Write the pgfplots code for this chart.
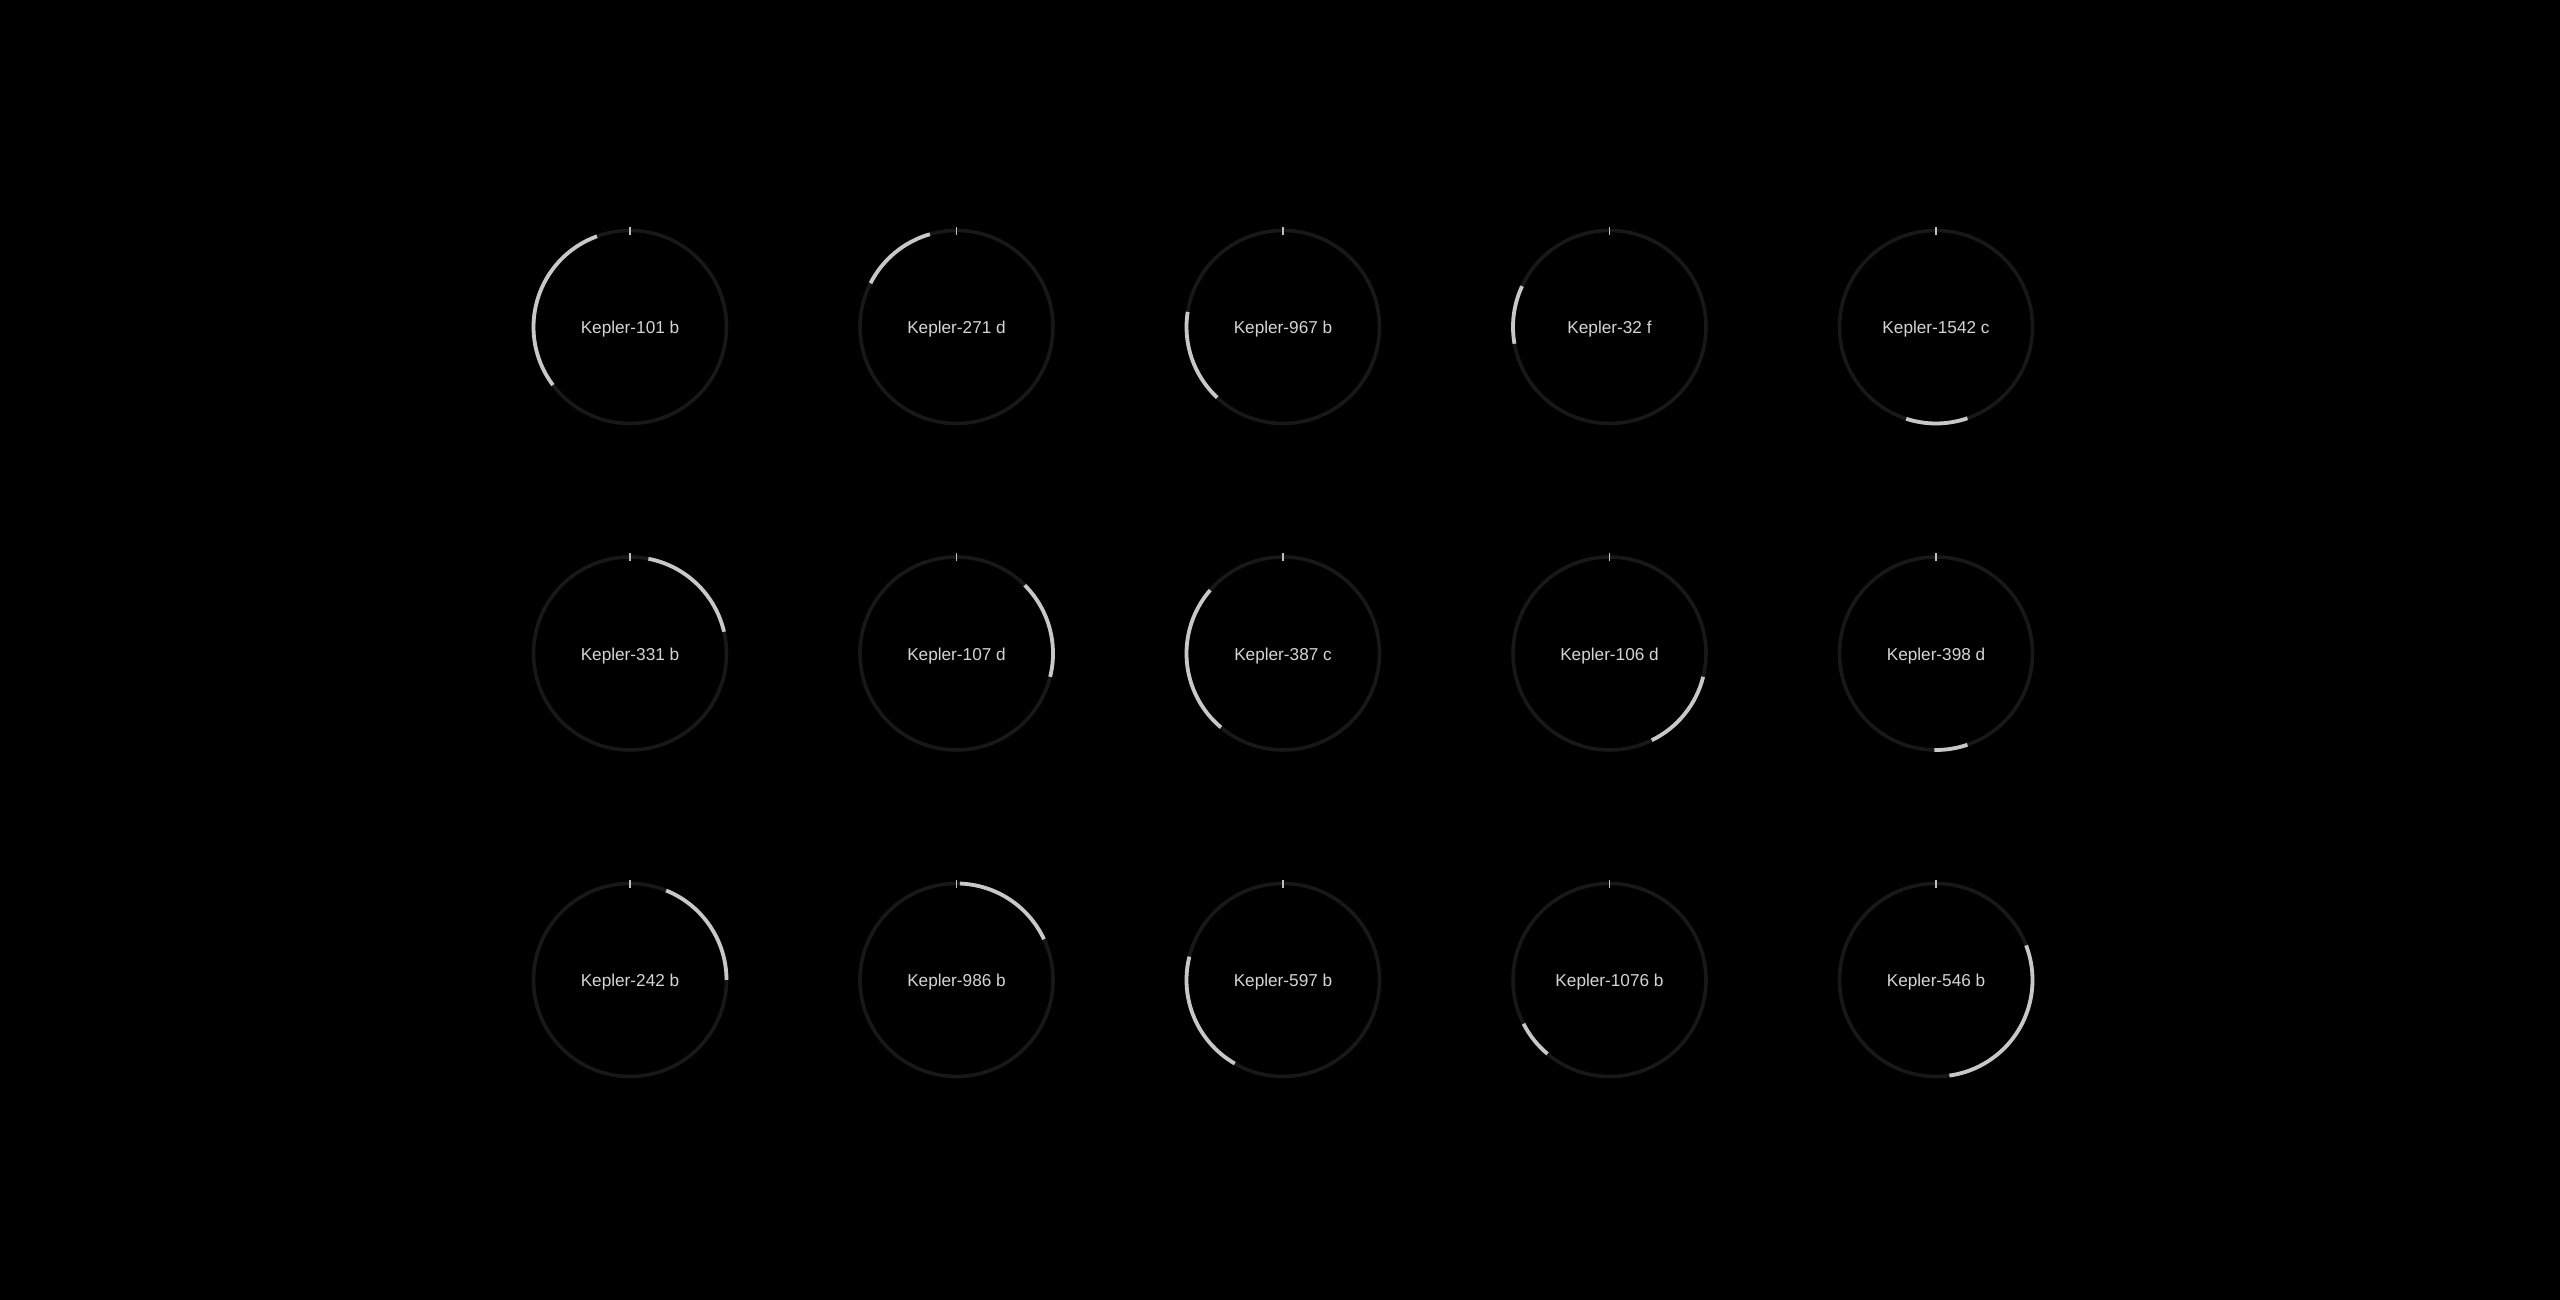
\documentclass[border=0pt]{standalone}
\usepackage{pgfplots}
\pgfplotsset{compat=1.18}
\usepackage{fontspec}
\setmainfont{Liberation Sans}
\definecolor{trackc}{RGB}{24,24,24}
\definecolor{arcc}{RGB}{200,200,200}
\definecolor{txtc}{RGB}{212,212,212}
\definecolor{tickc}{RGB}{190,190,190}
% gauge: centre x, centre y (axis units = pixels), arc from angle t1 to t2 (degrees clockwise from top), label
\newcommand{\gauge}[5]{%
  \draw[trackc, line width=1.8pt] (axis cs:#1,#2) circle[radius=48.25pt];
  \draw[arcc, line width=1.9pt] (axis cs:{#1+96.5*cos(90-(#4))},{#2+96.5*sin(90-(#4))})
     arc[start angle={90-(#4)}, end angle={90-(#3)}, radius=48.25pt];
  \draw[tickc, line width=0.65pt] (axis cs:#1,{#2+92}) -- (axis cs:#1,{#2+100});
  \node[txtc, font=\fontsize{8.6}{10}\selectfont, inner sep=0pt, yshift=-1.1pt] at (axis cs:#1,#2) {#5};
}
\begin{document}
\begin{tikzpicture}
\begin{axis}[
  x=0.5pt, y=0.5pt,
  xmin=0, xmax=2560, ymin=0, ymax=1300,
  disabledatascaling,
  axis line style={draw=none},
  ticks=none,
  clip=false,
  axis background/.style={fill=black},
]
% row 1 (y = 1300-327)
\gauge{630}{973}{233}{340}{Kepler-101 b}
\gauge{956.5}{973}{297}{344}{Kepler-271 d}
\gauge{1283}{973}{223}{279}{Kepler-967 b}
\gauge{1609.5}{973}{260}{295}{Kepler-32 f}
\gauge{1936}{973}{161}{198}{Kepler-1542 c}
% row 2
\gauge{630}{646.5}{11}{77}{Kepler-331 b}
\gauge{956.5}{646.5}{45}{104}{Kepler-107 d}
\gauge{1283}{646.5}{220}{311}{Kepler-387 c}
\gauge{1609.5}{646.5}{104}{154}{Kepler-106 d}
\gauge{1936}{646.5}{161}{181}{Kepler-398 d}
% row 3
\gauge{630}{320}{22}{90}{Kepler-242 b}
\gauge{956.5}{320}{2}{65}{Kepler-986 b}
\gauge{1283}{320}{210}{284}{Kepler-597 b}
\gauge{1609.5}{320}{220}{243}{Kepler-1076 b}
\gauge{1936}{320}{69}{172}{Kepler-546 b}
\end{axis}
\end{tikzpicture}
\end{document}
